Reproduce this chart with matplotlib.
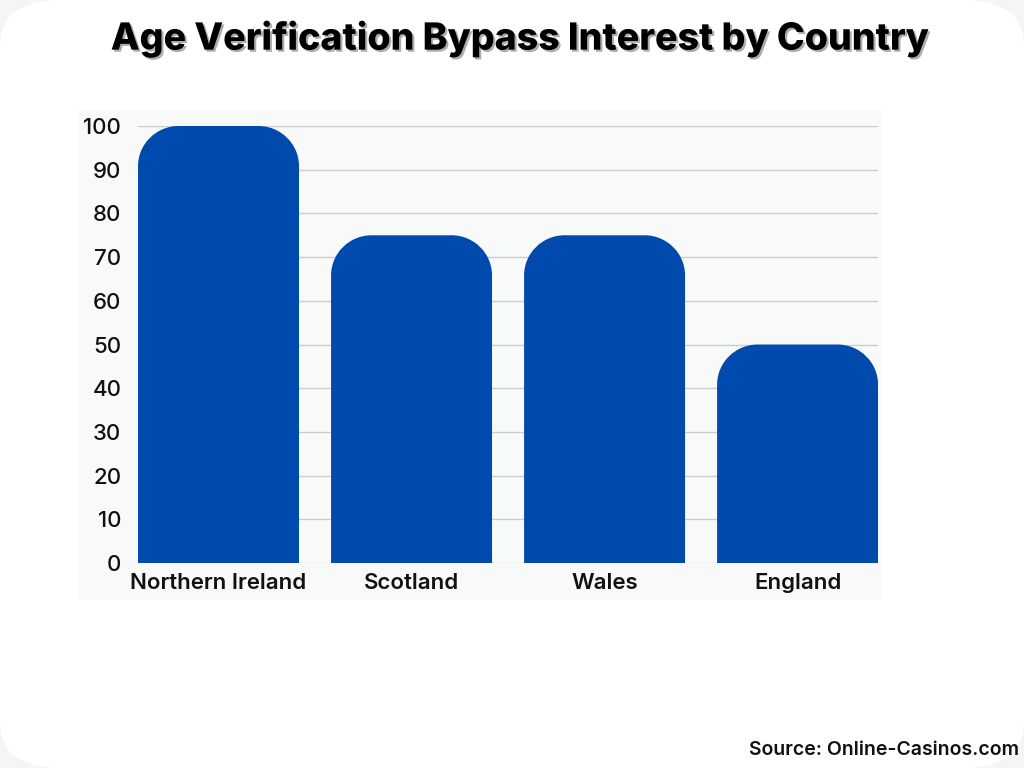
import matplotlib
matplotlib.use("Agg")
import matplotlib.pyplot as plt
import matplotlib.patheffects as pe
from matplotlib.path import Path
from matplotlib.patches import PathPatch, FancyBboxPatch, Rectangle

countries = ["Northern Ireland", "Scotland", "Wales", "England"]
values = [100, 75, 75, 50]
yticks = [0, 10, 20, 30, 40, 50, 60, 70, 80, 90, 100]

bar_color = "#004aad"
plt.rcParams['font.family'] = ['Inter', 'DejaVu Sans']

fig = plt.figure(figsize=(10.24, 7.68), dpi=100)
fig.patch.set_facecolor("#f4f5f6")

# white rounded card
fig.patches.append(FancyBboxPatch((0.0, 0.0), 1.0, 1.0, boxstyle="round,pad=0,rounding_size=0.06",
                                  transform=fig.transFigure, facecolor="white", edgecolor="none", zorder=-2))
# light panel behind plot
fig.patches.append(Rectangle((0.0762, 0.21875), 0.784, 0.638, transform=fig.transFigure,
                             facecolor="#f8f9f9", edgecolor="none", zorder=-1))

ax = fig.add_axes([0.1348, 0.2669, 0.7227, 0.569])
ax.set_facecolor("none")
ax.set_xlim(-0.417, 3.417)
ax.set_ylim(0, 100)

width = 0.834
rx = 0.21
ry = 9.2
k = 0.5523
for i, v in enumerate(values):
    x0, x1 = i - width / 2, i + width / 2
    verts = [(x0, 0), (x0, v - ry),
             (x0, v - ry + k * ry), (x0 + rx - k * rx, v), (x0 + rx, v),
             (x1 - rx, v),
             (x1 - rx + k * rx, v), (x1, v - ry + k * ry), (x1, v - ry),
             (x1, 0), (x0, 0)]
    codes = [Path.MOVETO, Path.LINETO,
             Path.CURVE4, Path.CURVE4, Path.CURVE4,
             Path.LINETO,
             Path.CURVE4, Path.CURVE4, Path.CURVE4,
             Path.LINETO, Path.CLOSEPOLY]
    ax.add_patch(PathPatch(Path(verts, codes), facecolor=bar_color, edgecolor="none", zorder=3))

ax.set_yticks(yticks)
ax.set_xticks(range(len(countries)))
ax.set_xticklabels(countries)
ax.grid(axis="y", color="#cccccc", linewidth=1, zorder=0)
for s in ax.spines.values():
    s.set_visible(False)
ax.tick_params(axis="both", length=0, labelsize=16, labelcolor="#111111")
ax.tick_params(axis="y", pad=12)
ax.tick_params(axis="x", pad=7)
for lab in ax.get_xticklabels():
    lab.set_fontweight("semibold")
for lab in ax.get_yticklabels():
    lab.set_fontweight("medium")

fig.text(0.508, 0.949, "Age Verification Bypass Interest by Country", ha="center", va="center",
         fontsize=27, fontweight="heavy", color="black",
         path_effects=[pe.SimplePatchShadow(offset=(1.5, -1.5), shadow_rgbFace="#999999", alpha=0.8), pe.Normal()])
fig.text(0.995, 0.023, "Source: Online-Casinos.com", ha="right", va="center",
         fontsize=14, fontweight="semibold", color="#111111")

fig.savefig("out.png", dpi=100, facecolor=fig.get_facecolor())
